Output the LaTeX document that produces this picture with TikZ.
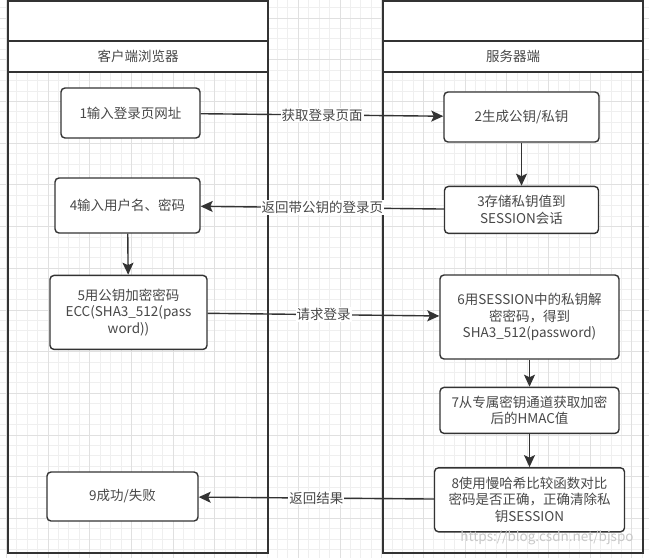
\documentclass[tikz,border=0pt]{standalone}
\usepackage{fontspec}
\setmainfont{Noto Sans CJK SC}
\usetikzlibrary{arrows.meta, positioning}
\definecolor{edgegray}{HTML}{333333}
\definecolor{txtgray}{HTML}{484848}
\definecolor{gridminor}{HTML}{EFEFEF}
\definecolor{gridmajor}{HTML}{E0E0E0}
\tikzstyle{lane} = [rectangle, draw=edgegray, line width=1.4pt, minimum width=260pt, minimum height=552pt, inner sep=0pt, outer sep=0pt]
\tikzstyle{lanecap} = [rectangle, draw=edgegray, fill=white, line width=1.4pt, minimum width=260pt, inner sep=0pt, outer sep=0pt, text=txtgray]
\tikzstyle{proc} = [rectangle, draw=edgegray, fill=white, line width=1.4pt, rounded corners=4pt, align=center, text=txtgray, inner sep=0pt]
\tikzstyle{msg} = [fill=white, text=txtgray, inner sep=1pt]
\tikzstyle{line} = [draw=edgegray, line width=1.4pt, -{Stealth[length=12pt, width=11pt, inset=2.5pt]}]

\begin{document}
\begin{tikzpicture}[x=1pt, y=-1pt, font=\fontsize{13.5}{16.7}\selectfont, node distance=40pt]
        \useasboundingbox (0,0) rectangle (649,558);
        
        % background grid
        \foreach \i in {0,...,63} \draw[gridminor, line width=0.8pt] ({\i*10.425-4.1},0) -- ({\i*10.425-4.1},558);
        \foreach \j in {0,...,54} \draw[gridminor, line width=0.8pt] (0,{\j*10.425-2.85}) -- (649,{\j*10.425-2.85});
        \foreach \i in {0,...,15} \draw[gridmajor, line width=0.8pt] ({\i*41.7+6.3},0) -- ({\i*41.7+6.3},558);
        \foreach \j in {0,...,13} \draw[gridmajor, line width=0.8pt] (0,{\j*41.7+18}) -- (649,{\j*41.7+18});
        
        % lanes
        \node (client) [lane] at (138,277) {};
        \node (clienttop) [lanecap, minimum height=40pt, below=0pt of client.north] {};
        \node (clienthead) [lanecap, minimum height=31pt, below=0pt of clienttop] {客户端浏览器};
        
        \node (server) [lane] at (513,277) {};
        \node (servertop) [lanecap, minimum height=40pt, below=0pt of server.north] {};
        \node (serverhead) [lanecap, minimum height=31pt, below=0pt of servertop] {服务器端};
        
        % client steps
        \node (addr) [proc, minimum width=139pt, minimum height=50pt] at (130.5,113) {1输入登录页网址};
        \node (input) [proc, minimum width=145pt, minimum height=55pt] at (127.5,205.5) {4输入用户名、密码};
        \node (encrypt) [proc, below=41pt of input, xshift=1pt, minimum width=157pt, minimum height=74pt] {5用公钥加密密码\\ECC(SHA3\_512(pass\\word))};
        \node (result) [proc, minimum width=151pt, minimum height=49pt] at (122.5,496.5) {9成功/失败};
        
        % server steps
        \node (keygen) [proc, minimum width=155pt, minimum height=50pt] at (521.5,117) {2生成公钥/私钥};
        \node (store) [proc, below=43pt of keygen, minimum width=154pt, minimum height=47pt] {3存储私钥值到\\SESSION会话};
        \node (decrypt) [proc, minimum width=179pt, minimum height=84pt] at (529.5,317) {6用SESSION中的私钥解\\密密码，得到\\SHA3\_512(password)};
        \node (hmac) [proc, below=27pt of decrypt, minimum width=179pt, minimum height=46pt] {7从专属密钥通道获取加密\\后的HMAC值};
        \node (compare) [proc, below=33pt of hmac, minimum width=190pt, minimum height=64pt] {8使用慢哈希比较函数对比\\密码是否正确，正确清除私\\钥SESSION};
        
        \node (mark) [text=black!22] at (547,538) {https://blog.csdn.net/bjspo};
        
        \path [line] (addr) -- (keygen) node[midway, msg] {获取登录页面};
        \path [line] (keygen) -- (store);
        \path [line] (store) -- (input) node[midway, msg] {返回带公钥的登录页};
        \path [line] (input) -- (encrypt);
        \path [line] (encrypt) -- (decrypt) node[midway, msg] {请求登录};
        \path [line] (decrypt) -- (hmac);
        \path [line] (hmac) -- (compare);
        \path [line] (compare) -- (result) node[midway, msg] {返回结果};
        
    \end{tikzpicture}
\end{document}
